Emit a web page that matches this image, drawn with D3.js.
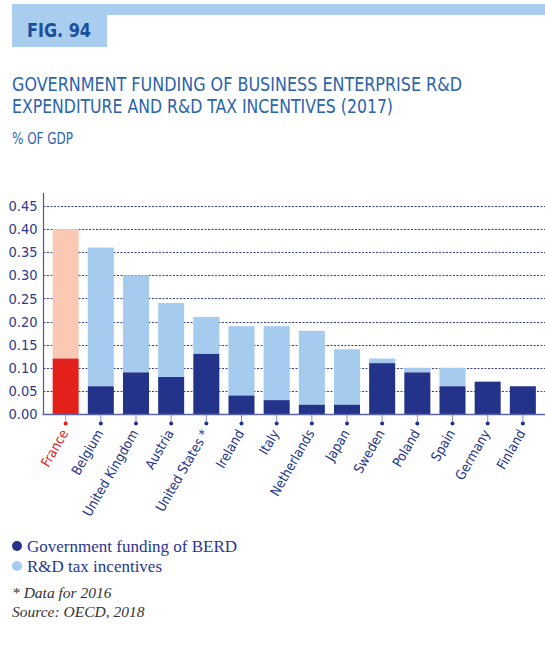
<!DOCTYPE html>
<html><head><meta charset="utf-8">
<script src="https://cdn.jsdelivr.net/npm/d3@7"></script>
<style>body{margin:0;background:#fff}svg{display:block}</style>
</head><body>
<script>
const countries = ["France","Belgium","United Kingdom","Austria","United States *","Ireland","Italy","Netherlands","Japan","Sweden","Poland","Spain","Germany","Finland"];
const govFunding = [0.12,0.06,0.09,0.08,0.13,0.04,0.03,0.02,0.02,0.11,0.09,0.06,0.07,0.06];
const taxIncentives = [0.28,0.30,0.21,0.16,0.08,0.15,0.16,0.16,0.12,0.01,0.01,0.04,0.00,0.00];
const yTicks = [0,0.05,0.10,0.15,0.20,0.25,0.30,0.35,0.40,0.45];
const highlight = "France";

const W=545,H=646;
const svg=d3.select("body").append("svg").attr("width",W).attr("height",H);
const navy="#24338a", light="#a5cbee", red="#e4201b", peach="#f9c9b4";
const cond="'Liberation Sans Narrow','DejaVu Sans Condensed','Roboto Condensed',sans-serif";

// header
svg.append("rect").attr("x",12).attr("y",4).attr("width",W-12).attr("height",11).attr("fill","#a8cdef");
svg.append("rect").attr("x",12).attr("y",4).attr("width",95).attr("height",43).attr("fill","#a8cdef");
svg.append("text").attr("x",27).attr("y",37).attr("font-family","'DejaVu Sans Condensed',sans-serif").attr("font-weight","bold")
  .attr("font-size",19).attr("fill","#1b4f9b").attr("textLength",64).attr("lengthAdjust","spacingAndGlyphs").text("FIG. 94");

const tcol="#2b63ad";
svg.append("text").attr("x",12).attr("y",91).attr("font-family",cond).attr("font-size",19).attr("fill",tcol)
  .attr("textLength",450).attr("lengthAdjust","spacingAndGlyphs").text("GOVERNMENT FUNDING OF BUSINESS ENTERPRISE R&D");
svg.append("text").attr("x",12).attr("y",113).attr("font-family",cond).attr("font-size",19).attr("fill",tcol)
  .attr("textLength",381).attr("lengthAdjust","spacingAndGlyphs").text("EXPENDITURE AND R&D TAX INCENTIVES (2017)");
svg.append("text").attr("x",12).attr("y",144).attr("font-family",cond).attr("font-size",15).attr("fill",tcol)
  .attr("textLength",61).attr("lengthAdjust","spacingAndGlyphs").text("% OF GDP");

// chart
const x0=43.5, x1=545, yBase=414;
const x=d3.scaleBand().domain(countries).range([x0,x1]).paddingInner(0.26).paddingOuter(0.26);
const y=d3.scaleLinear().domain([0,0.45]).range([yBase,206]);

const g=svg.append("g");
g.selectAll("line.grid").data(yTicks.filter(d=>d>0)).join("line").attr("class","grid")
  .attr("x1",x0).attr("x2",W).attr("y1",d=>Math.round(y(d))+0.5).attr("y2",d=>Math.round(y(d))+0.5)
  .attr("stroke","#34409a").attr("stroke-width",1).attr("stroke-dasharray","2,1.5");

const rows=countries.map((c,i)=>({c,gov:govFunding[i],tax:taxIncentives[i]}));
g.selectAll("rect.tax").data(rows).join("rect").attr("class","tax")
  .attr("x",d=>x(d.c)).attr("width",x.bandwidth())
  .attr("y",d=>y(d.gov+d.tax)).attr("height",d=>y(d.gov)-y(d.gov+d.tax))
  .attr("fill",d=>d.c===highlight?peach:light);
g.selectAll("rect.gov").data(rows).join("rect").attr("class","gov")
  .attr("x",d=>x(d.c)).attr("width",x.bandwidth())
  .attr("y",d=>y(d.gov)).attr("height",d=>y(0)-y(d.gov))
  .attr("fill",d=>d.c===highlight?red:navy);

// y axis
const yAxis=d3.axisLeft(y).tickValues(yTicks).tickFormat(d3.format(".2f")).tickSize(0).tickPadding(6);
const ya=svg.append("g").attr("transform",`translate(${x0},0)`).call(yAxis);
ya.select(".domain").remove();
ya.selectAll("text").attr("font-family",cond).attr("font-size",14.5).attr("fill","#2e3a8c");
svg.append("line").attr("x1",x0).attr("x2",x0).attr("y1",193).attr("y2",yBase).attr("stroke","#4a55a0").attr("stroke-width",1.2);

// x axis
const xAxis=d3.axisBottom(x).tickSize(0).tickPadding(0);
const xa=svg.append("g").attr("transform",`translate(0,${yBase})`).call(xAxis);
xa.select(".domain").remove();
svg.append("line").attr("x1",x0-1).attr("x2",W).attr("y1",yBase+0.5).attr("y2",yBase+0.5).attr("stroke","#5a63a3").attr("stroke-width",1.6);
xa.selectAll(".tick").each(function(d){
  const t=d3.select(this);
  const col=d===highlight?red:navy;
  t.append("line").attr("y1",1).attr("y2",9).attr("stroke",d===highlight?"#f08a86":"#8a92c4").attr("stroke-width",1);
  t.append("circle").attr("cy",9.5).attr("r",2).attr("fill",col);
  t.select("text").attr("font-family",cond).attr("font-size",13.5).attr("fill",col)
    .attr("text-anchor","end").attr("dy",0).attr("transform","translate(3,19) rotate(-60)");
});

// legend
const lf="'Liberation Serif','DejaVu Serif',serif";
[["Government funding of BERD",navy],["R&D tax incentives",light]].forEach((d,i)=>{
  svg.append("circle").attr("cx",17).attr("cy",546+i*20).attr("r",5).attr("fill",d[1]);
  svg.append("text").attr("x",27).attr("y",552+i*20).attr("font-family",lf).attr("font-size",17).attr("fill","#2a3590").text(d[0]);
});
svg.append("text").attr("x",12).attr("y",598).attr("font-family",lf).attr("font-style","italic").attr("font-size",15.5).attr("fill","#333").text("* Data for 2016");
svg.append("text").attr("x",12).attr("y",617).attr("font-family",lf).attr("font-style","italic").attr("font-size",15.5).attr("fill","#333").text("Source: OECD, 2018");
</script>
</body></html>
